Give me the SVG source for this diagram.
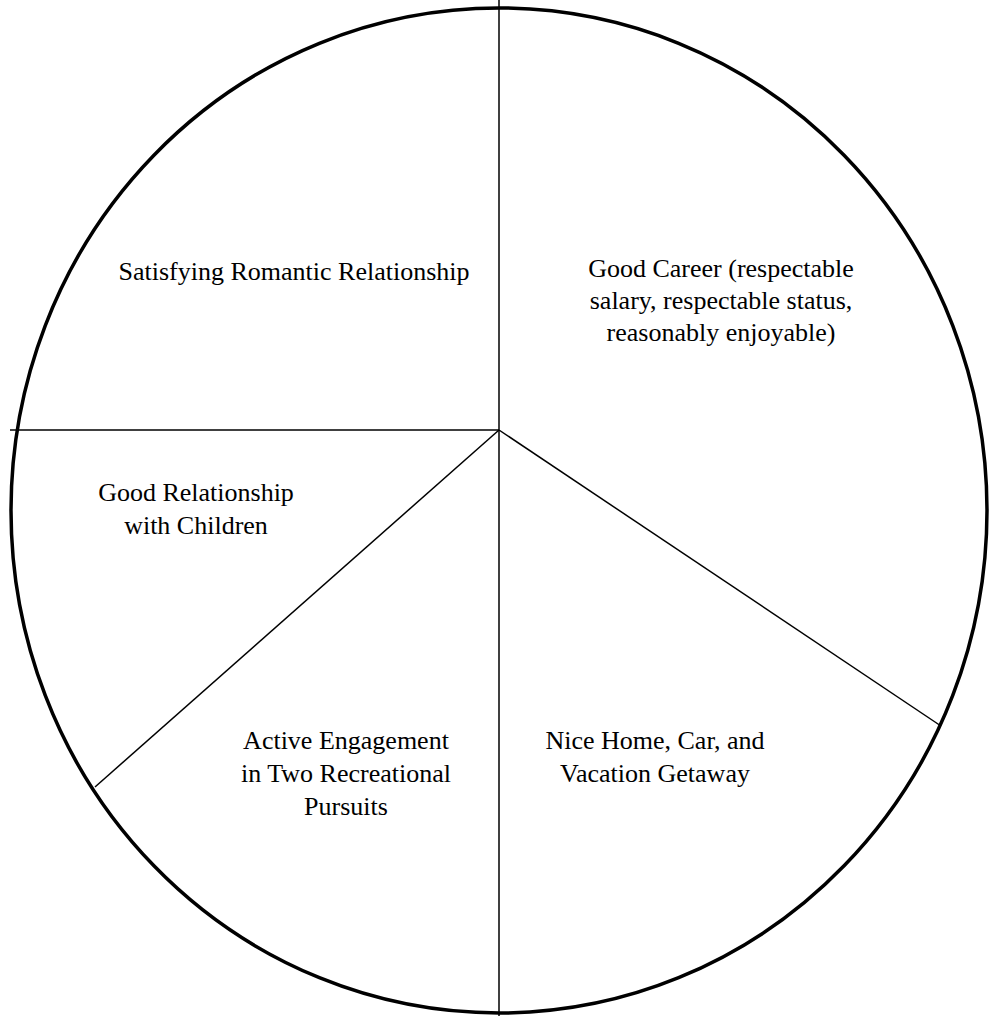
<svg xmlns="http://www.w3.org/2000/svg" width="990" height="1016" viewBox="0 0 990 1016">
<style>
.t{font-family:"Liberation Serif","Times New Roman",serif;font-size:26px;fill:#000;text-anchor:middle}
.l{stroke:#000;stroke-width:1.5;fill:none}
</style>
<rect width="990" height="1016" fill="#fff"/>
<g id="connectors">
<line class="l" x1="499" y1="0" x2="499" y2="1016"/>
<line class="l" x1="10" y1="430" x2="499" y2="430"/>
<line class="l" x1="499" y1="430" x2="941" y2="726"/>
<line class="l" x1="499" y1="430" x2="95" y2="787"/>
</g>
<g id="circle"><ellipse cx="499" cy="510.5" rx="488" ry="502.5" fill="none" stroke="#000" stroke-width="3.5"/></g>
<g id="romantic"><text class="t" x="294" y="280">Satisfying Romantic Relationship</text></g>
<g id="career"><text class="t" x="721" y="277">Good Career (respectable</text><text class="t" x="721" y="309">salary, respectable status,</text><text class="t" x="721" y="341">reasonably enjoyable)</text></g>
<g id="children"><text class="t" x="196" y="501">Good Relationship</text><text class="t" x="196" y="534">with Children</text></g>
<g id="recreation"><text class="t" x="346" y="749">Active Engagement</text><text class="t" x="346" y="782">in Two Recreational</text><text class="t" x="346" y="815">Pursuits</text></g>
<g id="home"><text class="t" x="655" y="749">Nice Home, Car, and</text><text class="t" x="655" y="782">Vacation Getaway</text></g>
</svg>
